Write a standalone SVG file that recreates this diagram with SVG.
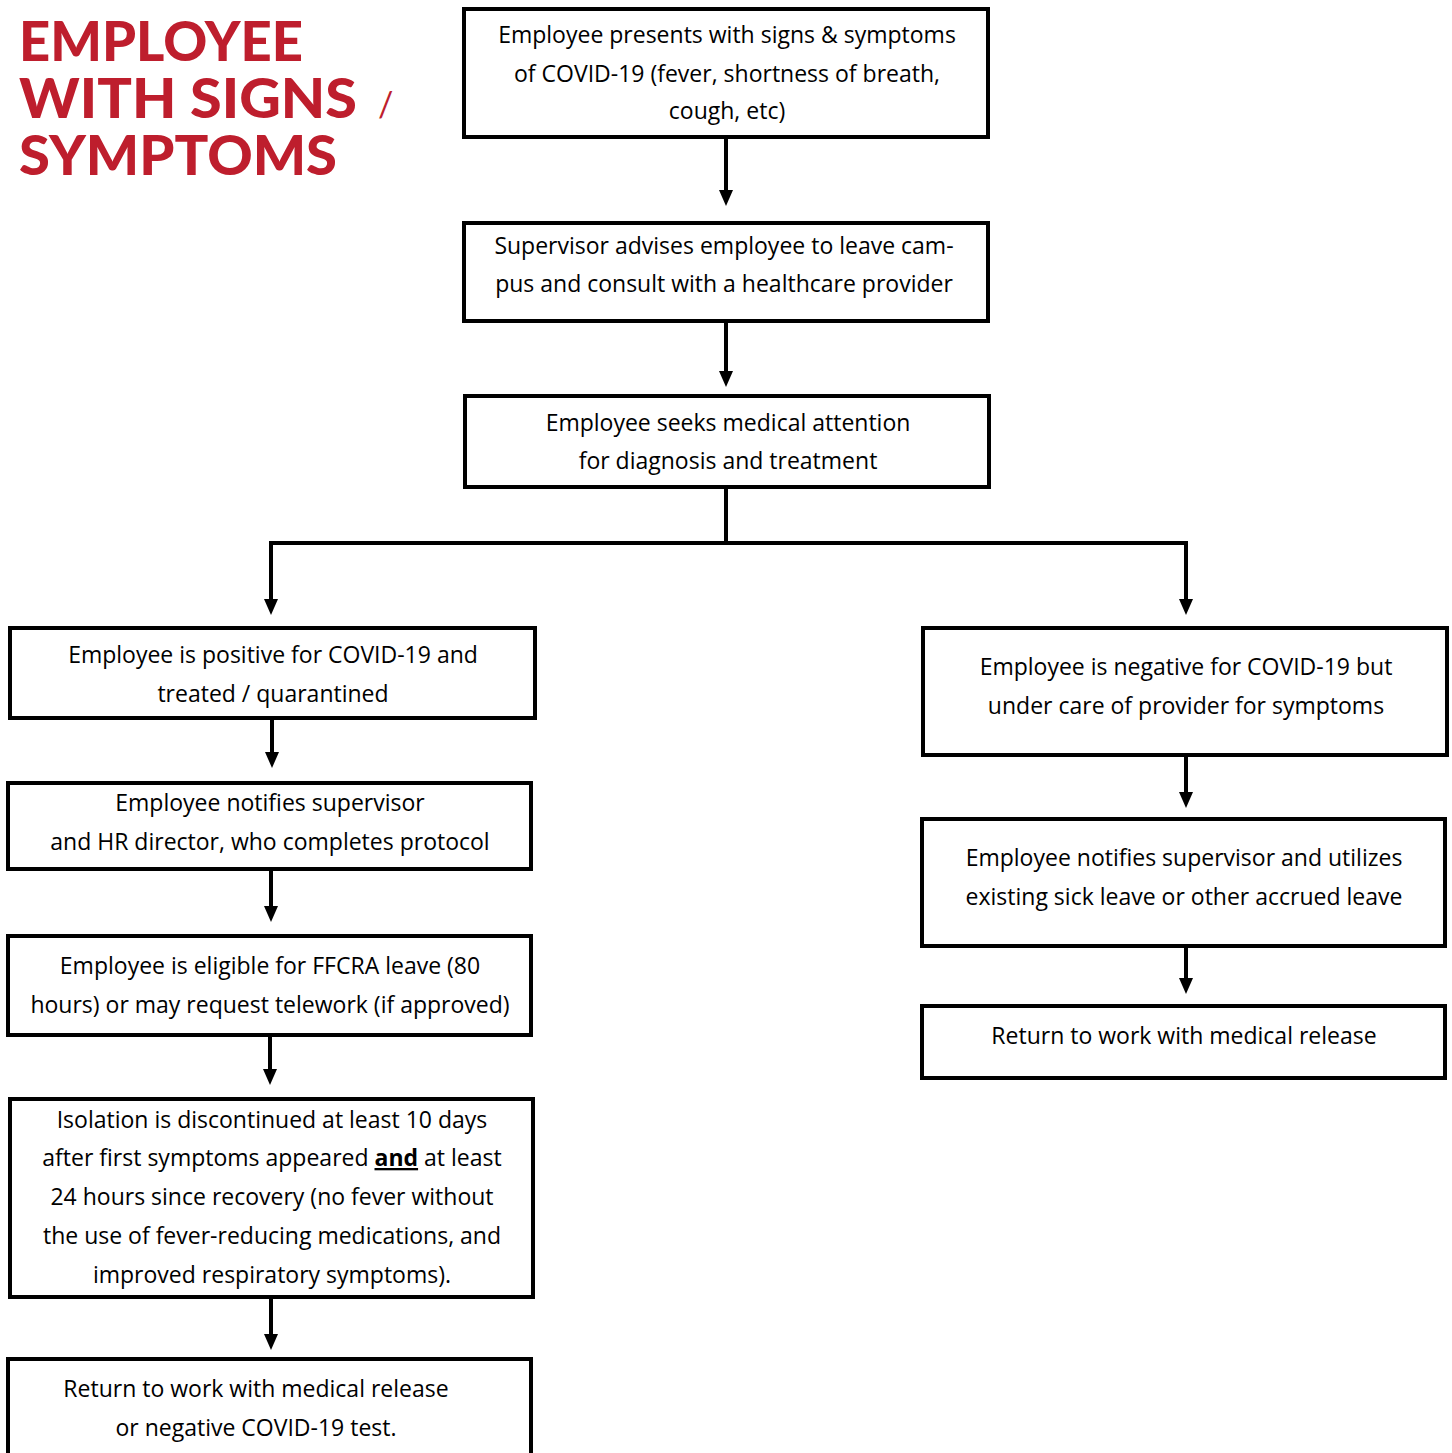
<svg xmlns="http://www.w3.org/2000/svg" width="1452" height="1453" viewBox="0 0 1452 1453">
<style>
.box{fill:#fff;stroke:#000;stroke-width:4}
.t{font-family:"Open Sans","Liberation Sans",sans-serif;font-size:23px;fill:#000;text-anchor:middle}
.title{font-family:Lato,"Liberation Sans",sans-serif;font-weight:900;font-size:56px;fill:#BE1E2D}
.c{stroke:#000;stroke-width:4;fill:none}
.ah{fill:#000}
</style>
<rect width="1452" height="1453" fill="#fff"/>
<g id="title">
<text class="title"><tspan x="19" y="61" textLength="284" lengthAdjust="spacingAndGlyphs">EMPLOYEE</tspan><tspan x="19" y="118" textLength="338" lengthAdjust="spacingAndGlyphs">WITH SIGNS</tspan><tspan x="378" y="117" font-size="34" font-weight="400">/</tspan><tspan x="19" y="175" textLength="318" lengthAdjust="spacingAndGlyphs">SYMPTOMS</tspan></text>
</g>
<g id="connectors">
<path class="c" d="M726,137 V192"/>
<path class="ah" d="M719,190 L733,190 L726,206 Z"/>
<path class="c" d="M726,321 V373"/>
<path class="ah" d="M719,371 L733,371 L726,387 Z"/>
<path class="c" d="M726,487 V543 M271,543 H1186 M271,541 V601 M1186,541 V601"/>
<path class="ah" d="M264,599 L278,599 L271,615 Z"/>
<path class="ah" d="M1179,599 L1193,599 L1186,615 Z"/>
<path class="c" d="M272,718 V754"/>
<path class="ah" d="M265,752 L279,752 L272,768 Z"/>
<path class="c" d="M271,869 V908"/>
<path class="ah" d="M264,906 L278,906 L271,922 Z"/>
<path class="c" d="M270,1035 V1071"/>
<path class="ah" d="M263,1069 L277,1069 L270,1085 Z"/>
<path class="c" d="M271,1297 V1336"/>
<path class="ah" d="M264,1334 L278,1334 L271,1350 Z"/>
<path class="c" d="M1186,755 V794"/>
<path class="ah" d="M1179,792 L1193,792 L1186,808 Z"/>
<path class="c" d="M1186,946 V980"/>
<path class="ah" d="M1179,978 L1193,978 L1186,994 Z"/>
</g>
<g id="n1">
<rect class="box" x="464" y="9" width="524" height="128"/>
<text class="t" x="727" y="43">Employee presents with signs &amp; symptoms</text>
<text class="t" x="727" y="82">of COVID-19 (fever, shortness of breath,</text>
<text class="t" x="727" y="119">cough, etc)</text>
</g>
<g id="n2">
<rect class="box" x="464" y="223" width="524" height="98"/>
<text class="t" x="724" y="254">Supervisor advises employee to leave cam-</text>
<text class="t" x="724" y="292">pus and consult with a healthcare provider</text>
</g>
<g id="n3">
<rect class="box" x="465" y="396" width="524" height="91"/>
<text class="t" x="728" y="431">Employee seeks medical attention</text>
<text class="t" x="728" y="469">for diagnosis and treatment</text>
</g>
<g id="l1">
<rect class="box" x="10" y="628" width="525" height="90"/>
<text class="t" x="273" y="663">Employee is positive for COVID-19 and</text>
<text class="t" x="273" y="702">treated / quarantined</text>
</g>
<g id="l2">
<rect class="box" x="8" y="783" width="523" height="86"/>
<text class="t" x="270" y="811">Employee notifies supervisor</text>
<text class="t" x="270" y="850">and HR director, who completes protocol</text>
</g>
<g id="l3">
<rect class="box" x="8" y="936" width="523" height="99"/>
<text class="t" x="270" y="974">Employee is eligible for FFCRA leave (80</text>
<text class="t" x="270" y="1013">hours) or may request telework (if approved)</text>
</g>
<g id="l4">
<rect class="box" x="10" y="1099" width="523" height="198"/>
<text class="t" x="272" y="1128">Isolation is discontinued at least 10 days</text>
<text class="t" x="272" y="1166">after first symptoms appeared <tspan font-weight="bold" text-decoration="underline">and</tspan> at least</text>
<text class="t" x="272" y="1205">24 hours since recovery (no fever without</text>
<text class="t" x="272" y="1244">the use of fever-reducing medications, and</text>
<text class="t" x="272" y="1283">improved respiratory symptoms).</text>
</g>
<g id="l5">
<rect class="box" x="8" y="1359" width="523" height="110"/>
<text class="t" x="256" y="1397">Return to work with medical release</text>
<text class="t" x="256" y="1436">or negative COVID-19 test.</text>
</g>
<g id="r1">
<rect class="box" x="923" y="628" width="524" height="127"/>
<text class="t" x="1186" y="675">Employee is negative for COVID-19 but</text>
<text class="t" x="1186" y="714">under care of provider for symptoms</text>
</g>
<g id="r2">
<rect class="box" x="922" y="819" width="523" height="127"/>
<text class="t" x="1184" y="866">Employee notifies supervisor and utilizes</text>
<text class="t" x="1184" y="905">existing sick leave or other accrued leave</text>
</g>
<g id="r3">
<rect class="box" x="922" y="1006" width="523" height="72"/>
<text class="t" x="1184" y="1044">Return to work with medical release</text>
</g>
</svg>
